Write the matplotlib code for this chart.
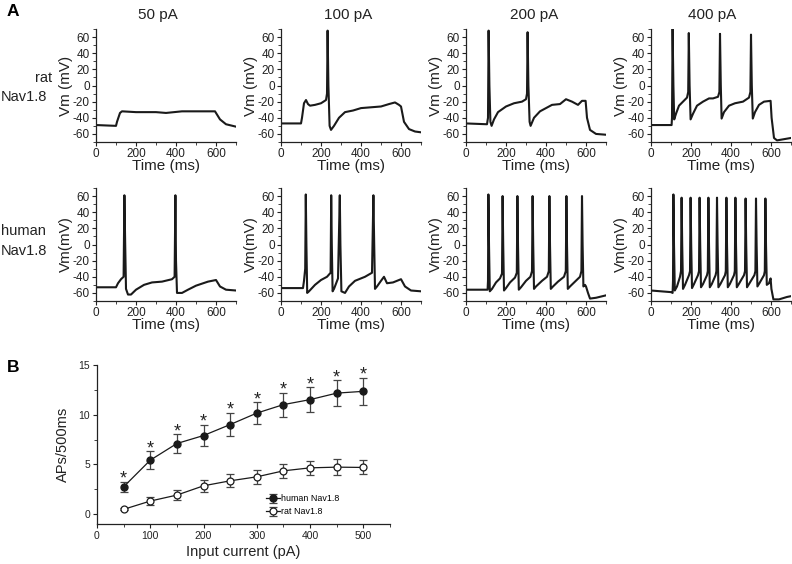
import matplotlib
matplotlib.use("Agg")
import matplotlib.pyplot as plt
from matplotlib.ticker import MultipleLocator

plt.rcParams['font.family'] = ['Liberation Sans', 'DejaVu Sans']
plt.rcParams['axes.unicode_minus'] = False

# ---------------- Data: panel A traces (time ms, Vm mV breakpoints) ----------------
currents = ["50 pA", "100 pA", "200 pA", "400 pA"]

rat_50_t = [0, 100, 105, 120, 130, 200, 300, 350, 430, 500, 595, 600, 620, 650, 700]
rat_50_v = [-49, -50, -45, -34, -32, -33, -33, -34, -32, -32, -32, -34, -42, -48, -51]

rat_100_t = [0, 100, 105, 115, 125, 135, 145, 170, 200, 225, 230, 233, 237, 243, 250, 265,
             290, 320, 360, 400, 450, 500, 540, 570, 590, 600, 615, 640, 670, 700]
rat_100_v = [-47, -47, -40, -22, -18, -23, -25, -24, -22, -18, -10, 68, 0, -50, -55, -50,
             -40, -33, -31, -28, -27, -26, -23, -21, -24, -26, -45, -54, -57, -58]

rat_200_t = [0, 105, 110, 113, 117, 122, 128, 140, 160, 200, 240, 280, 300, 305, 308, 312,
             318, 323, 340, 370, 400, 430, 470, 500, 530, 560, 580, 598, 605, 620, 650, 700]
rat_200_v = [-47, -48, -40, 68, 0, -45, -50, -42, -33, -26, -22, -20, -17, -10, 66, 0,
             -45, -50, -40, -32, -28, -24, -23, -17, -20, -24, -19, -19, -40, -55, -60, -61]

rat_400_t = [0, 103, 105, 108, 112, 116, 125, 140, 160, 180, 186, 189, 193, 198, 210, 230,
             260, 290, 310, 335, 342, 345, 349, 353, 365, 390, 420, 460, 490, 497, 500, 504,
             509, 520, 540, 565, 598, 603, 615, 630, 700]
rat_400_v = [-49, -49, -40, 70, 0, -42, -35, -25, -20, -15, -8, 65, 0, -42, -35, -25,
             -20, -16, -16, -14, -8, 64, 0, -41, -33, -25, -22, -20, -15, -8, 63, 0,
             -41, -33, -24, -20, -19, -40, -65, -68, -65]

hum_50_t = [0, 100, 110, 125, 138, 142, 146, 150, 160, 175, 200, 240, 280, 330, 380, 393,
            397, 400, 405, 430, 460, 500, 560, 600, 620, 650, 700]
hum_50_v = [-53, -53, -48, -43, -40, 61, 0, -55, -62, -62, -56, -50, -47, -46, -43, -40,
            61, -20, -60, -60, -56, -51, -46, -44, -52, -56, -57]

hum_100_t = [0, 110, 115, 121, 124, 127, 131, 140, 170, 200, 230, 248, 251, 254, 258, 265,
             285, 294, 297, 302, 320, 340, 370, 420, 455, 462, 466, 470, 480, 500, 515, 530,
             560, 600, 620, 650, 700]
hum_100_v = [-54, -54, -45, -30, 62, 0, -60, -58, -50, -44, -40, -35, 61, 0, -58, -55,
             -42, 61, 0, -58, -60, -52, -45, -40, -35, 61, 0, -55, -52, -45, -40, -48,
             -47, -43, -52, -57, -58]

hum_200_t = [0, 108, 110, 112, 115, 119, 130, 150, 170, 180, 183, 186, 190, 200, 220, 245,
             254, 257, 260, 264, 275, 300, 322, 330, 333, 336, 340, 350, 380, 405, 414, 417,
             420, 424, 435, 460, 490, 499, 502, 505, 509, 520, 545, 570, 577, 580, 583, 587,
             595, 600, 610, 620, 650, 700]
hum_200_v = [-56, -56, -45, 62, 0, -58, -55, -47, -42, -36, 60, 0, -57, -54, -47, -41,
             -35, 60, 0, -56, -53, -45, -40, -33, 60, 0, -55, -52, -45, -40, -33, 60,
             0, -55, -52, -46, -40, -33, 60, 0, -55, -52, -46, -40, -33, 60, 0, -52,
             -50, -52, -60, -67, -66, -63]

hum_400_t = [0, 100, 108, 110, 112, 115, 119, 130, 145, 150, 153, 156, 160, 170, 190, 195,
             198, 201, 205, 215, 235, 240, 243, 246, 250, 260, 280, 284, 287, 290, 294, 304,
             323, 327, 330, 333, 337, 347, 370, 374, 377, 380, 384, 394, 415, 419, 422, 425,
             429, 439, 465, 470, 473, 476, 480, 490, 517, 522, 525, 528, 532, 542, 565, 569,
             572, 575, 579, 590, 598, 602, 612, 640, 680, 700]
hum_400_v = [-57, -59, -60, -45, 62, 0, -57, -52, -40, -33, 58, 0, -55, -50, -38, -33,
             58, 0, -54, -49, -38, -33, 58, 0, -53, -49, -38, -33, 58, 0, -53, -49,
             -38, -33, 58, 0, -53, -49, -38, -33, 58, 0, -53, -49, -38, -33, 58, 0,
             -53, -49, -38, -33, 57, 0, -53, -49, -38, -33, 57, 0, -52, -48, -38, -33,
             57, 0, -50, -48, -42, -55, -68, -68, -65, -64]

traces = [
    [(rat_50_t, rat_50_v), (rat_100_t, rat_100_v), (rat_200_t, rat_200_v), (rat_400_t, rat_400_v)],
    [(hum_50_t, hum_50_v), (hum_100_t, hum_100_v), (hum_200_t, hum_200_v), (hum_400_t, hum_400_v)],
]
ylabels = ["Vm (mV)", "Vm(mV)"]

# ---------------- Data: panel B ----------------
input_current = [50, 100, 150, 200, 250, 300, 350, 400, 450, 500]
human_aps = [2.76, 5.43, 7.1, 7.9, 9.0, 10.15, 11.0, 11.5, 12.15, 12.33]
human_err = [0.5, 0.87, 0.95, 1.1, 1.18, 1.1, 1.2, 1.26, 1.27, 1.37]
rat_aps = [0.5, 1.33, 1.93, 2.86, 3.36, 3.76, 4.36, 4.66, 4.73, 4.7]
rat_err = [0.1, 0.43, 0.47, 0.6, 0.67, 0.7, 0.7, 0.7, 0.8, 0.7]

# ---------------- Figure ----------------
W, H = 792, 564
fig = plt.figure(figsize=(W / 100, H / 100), dpi=100)
txt = '#222222'

def fr(x0, y_top, w, h):
    return [x0 / W, 1 - (y_top + h) / H, w / W, h / H]

def fx(px):
    return px / W

def fy(py):
    return 1 - py / H

col_left = [96, 281, 466, 651]
row_top = [29, 188]
title_x = [158, 348, 534, 712]

for r in range(2):
    for c in range(4):
        ax = fig.add_axes(fr(col_left[c], row_top[r], 140, 113))
        t, v = traces[r][c]
        ax.plot(t, v, color='#1a1a1a', lw=1.5, solid_joinstyle='round')
        ax.set_xlim(0, 700)
        ax.set_ylim(-70, 70)
        for s in ['top', 'right']:
            ax.spines[s].set_visible(False)
        for s in ['left', 'bottom']:
            ax.spines[s].set_linewidth(0.9)
            ax.spines[s].set_color('#222222')
        ax.set_xticks([0, 200, 400, 600])
        ax.set_yticks([-60, -40, -20, 0, 20, 40, 60])
        ax.xaxis.set_minor_locator(MultipleLocator(100))
        ax.yaxis.set_minor_locator(MultipleLocator(10))
        ax.tick_params(which='major', length=3, width=0.8, labelsize=8.5, pad=1.5,
                       colors='#222222', labelcolor=txt)
        ax.tick_params(which='minor', length=2, width=0.6, colors='#222222')
        ax.set_xlabel("Time (ms)", fontsize=11, labelpad=-1, color=txt)
        ax.set_ylabel(ylabels[r], fontsize=11, labelpad=0, color=txt)
        if r == 0:
            fig.text(fx(title_x[c]), fy(15), currents[c], fontsize=11,
                     ha='center', va='center', color=txt)

# Row labels
fig.text(fx(44), fy(78), "rat", fontsize=10.5, ha='center', va='center', color=txt)
fig.text(fx(1), fy(97), "Nav1.8", fontsize=10.5, ha='left', va='center', color=txt)
fig.text(fx(1), fy(231), "human", fontsize=10.5, ha='left', va='center', color=txt)
fig.text(fx(1), fy(251), "Nav1.8", fontsize=10.5, ha='left', va='center', color=txt)
fig.text(fx(7), fy(12), "A", fontsize=12.5, fontweight='bold', ha='left', va='center')
fig.text(fx(7), fy(368), "B", fontsize=12.5, fontweight='bold', ha='left', va='center')

# Panel B
axb = fig.add_axes(fr(97, 364.7, 293, 159.6))
axb.errorbar(input_current, human_aps, yerr=human_err, fmt='-o', color='#1a1a1a',
             ecolor='#444444', elinewidth=0.9, capsize=3, capthick=0.9, lw=0.9,
             ms=5, mfc='#1a1a1a', mec='#1a1a1a', label='human Nav1.8', zorder=3)
axb.errorbar(input_current, rat_aps, yerr=rat_err, fmt='-o', color='#1a1a1a',
             ecolor='#444444', elinewidth=0.9, capsize=3, capthick=0.9, lw=0.9,
             ms=5, mfc='white', mec='#1a1a1a', mew=0.9, label='rat Nav1.8', zorder=3)
for x, y, e in zip(input_current, human_aps, human_err):
    axb.text(x, y + e - 0.6, "*", fontsize=13, ha='center', va='bottom', color=txt)
axb.set_xlim(0, 550)
axb.set_ylim(-1, 15)
axb.set_xticks([0, 100, 200, 300, 400, 500])
axb.set_yticks([0, 5, 10, 15])
axb.yaxis.set_minor_locator(MultipleLocator(2.5))
axb.xaxis.set_minor_locator(MultipleLocator(50))
for s in ['top', 'right']:
    axb.spines[s].set_visible(False)
for s in ['left', 'bottom']:
    axb.spines[s].set_linewidth(0.9)
    axb.spines[s].set_color('#222222')
axb.tick_params(which='major', length=3, width=0.8, labelsize=7.5, pad=2,
                colors='#222222', labelcolor=txt)
axb.tick_params(which='minor', length=2, width=0.6, colors='#222222')
axb.set_xlabel("Input current (pA)", fontsize=10.5, labelpad=3, color=txt)
axb.set_ylabel("APs/500ms", fontsize=10.5, labelpad=6, color=txt)
leg = axb.legend(loc='center left', bbox_to_anchor=(0.578, 0.118), frameon=False,
                 fontsize=6.4, handlelength=1.5, handletextpad=0.15, labelspacing=0.45,
                 borderpad=0, borderaxespad=0)

fig.savefig("out.png", dpi=100)
